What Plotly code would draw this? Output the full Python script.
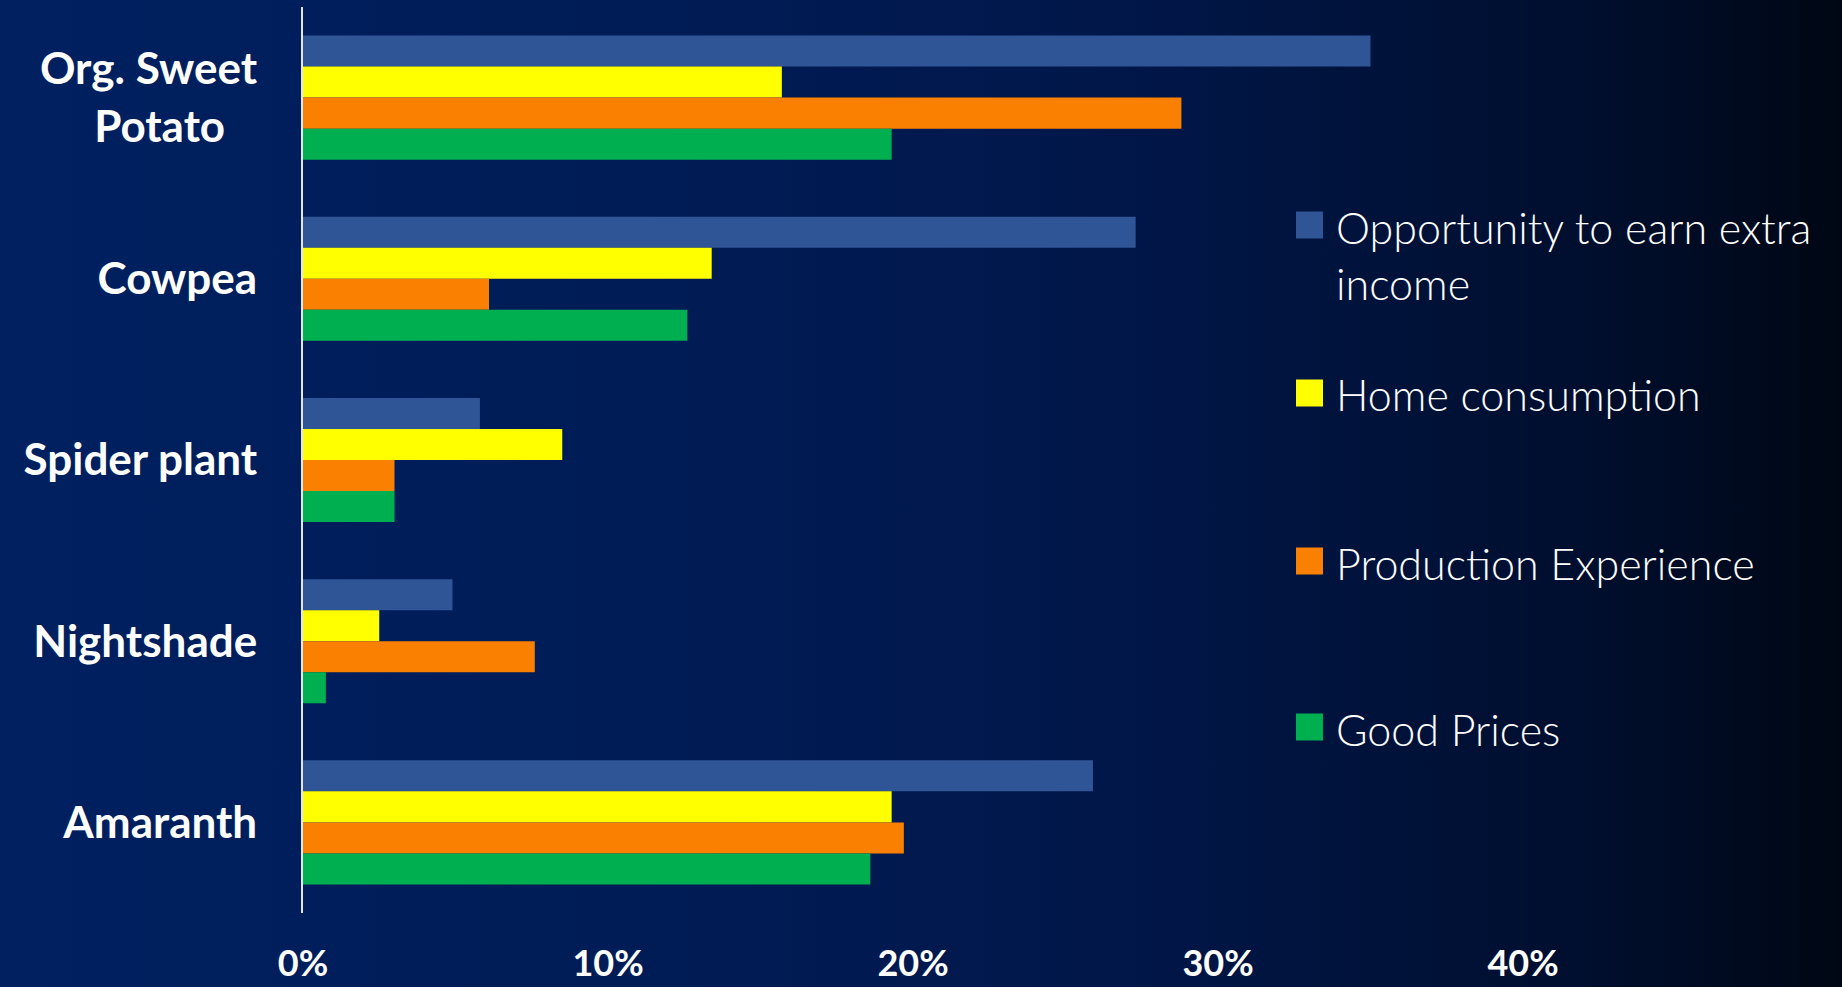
import base64
import plotly.graph_objects as go

# Crops (top to bottom) and the share of farmers citing each reason
crops = ["Org. Sweet Potato", "Cowpea", "Spider plant", "Nightshade", "Amaranth"]
crop_labels = ["Org. Sweet<br>Potato" + "\u00a0" * 3, "Cowpea", "Spider plant", "Nightshade", "Amaranth"]

series_names = ["Opportunity to earn extra income", "Home consumption",
                "Production Experience", "Good Prices"]
legend_labels = ["Opportunity to earn extra<br>income", "Home consumption",
                 "Production Experience", "Good Prices"]

opportunity = [0.350, 0.273, 0.058, 0.049, 0.259]
home_consumption = [0.157, 0.134, 0.085, 0.025, 0.193]
production_experience = [0.288, 0.061, 0.030, 0.076, 0.197]
good_prices = [0.193, 0.126, 0.030, 0.0075, 0.186]

tick_values = [0, 0.1, 0.2, 0.3, 0.4]
tick_labels = ["0%", "10%", "20%", "30%", "40%"]

colors = ["#2F5597", "#FFFF00", "#F98000", "#00B050"]
series_values = [opportunity, home_consumption, production_experience, good_prices]

W, H = 1842, 987
M_L, M_R, M_T, M_B = 303, 14, 7, 74
PW, PH = W - M_L - M_R, H - M_T - M_B

fig = go.Figure()
for name, vals, col in zip(series_names, series_values, colors):
    fig.add_trace(go.Bar(
        y=crops, x=vals, name=name, orientation="h",
        marker=dict(color=col, line=dict(width=0)),
        showlegend=False,
    ))

# Dark navy-to-black horizontal gradient behind everything
svg = (
    '<svg xmlns="http://www.w3.org/2000/svg" width="1842" height="987" preserveAspectRatio="none">'
    '<defs><linearGradient id="g" x1="0" y1="0" x2="1" y2="0">'
    '<stop offset="0" stop-color="#002060"/>'
    '<stop offset="0.35" stop-color="#001c56"/>'
    '<stop offset="0.60" stop-color="#01174a"/>'
    '<stop offset="0.76" stop-color="#001239"/>'
    '<stop offset="0.87" stop-color="#000e2d"/>'
    '<stop offset="0.95" stop-color="#000a1e"/>'
    '<stop offset="1" stop-color="#000714"/>'
    '</linearGradient></defs>'
    '<rect width="1842" height="987" fill="url(#g)"/></svg>'
)
bg_uri = "data:image/svg+xml;base64," + base64.b64encode(svg.encode()).decode()


def px_x(px):
    return (px - M_L) / PW


def px_y(py):
    return 1 - (py - M_T) / PH


images = [dict(source=bg_uri, xref="paper", yref="paper",
               x=px_x(0), y=px_y(0), sizex=W / PW, sizey=H / PH,
               sizing="stretch", layer="below", xanchor="left", yanchor="top")]

# Legend: large square swatches with light text at the right
shapes = []
annotations = []
legend_rows = [225, 393, 561, 727]
sw = 27
for label, col, cy in zip(legend_labels, colors, legend_rows):
    shapes.append(dict(type="rect", xref="paper", yref="paper",
                       x0=px_x(1296), x1=px_x(1296 + sw),
                       y0=px_y(cy - sw / 2), y1=px_y(cy + sw / 2),
                       fillcolor=col, line=dict(width=0)))
    n_lines = label.count("<br>") + 1
    mid = cy + (n_lines - 1) * 58 / 2
    annotations.append(dict(text=label, xref="paper", yref="paper",
                            x=px_x(1334), y=px_y(mid + 2), xanchor="left", yanchor="middle",
                            align="left", showarrow=False,
                            font=dict(family="Lato", size=43, color="white", weight=300)))

fig.update_layout(
    width=W, height=H,
    margin=dict(l=M_L, r=M_R, t=M_T, b=M_B, pad=0),
    barmode="group", bargap=0.315, bargroupgap=0,
    paper_bgcolor="#001c56", plot_bgcolor="rgba(0,0,0,0)",
    images=images, shapes=shapes, annotations=annotations,
    showlegend=False,
    xaxis=dict(range=[0, 0.5], tickvals=tick_values, ticktext=tick_labels,
               showgrid=False, zeroline=False, showline=False, ticks="",
               ticklabelstandoff=26, automargin=False,
               tickfont=dict(family="Lato", size=36, color="white", weight="bold")),
    yaxis=dict(categoryorder="array", categoryarray=crops, autorange="reversed",
               tickvals=crops, ticktext=crop_labels,
               showgrid=False, zeroline=False, showline=True,
               linecolor="#e6e6e6", linewidth=2, ticks="",
               ticklabelstandoff=35, automargin=False,
               tickfont=dict(family="Lato", size=44, color="white", weight="bold")),
)

fig.write_html("out.html")
